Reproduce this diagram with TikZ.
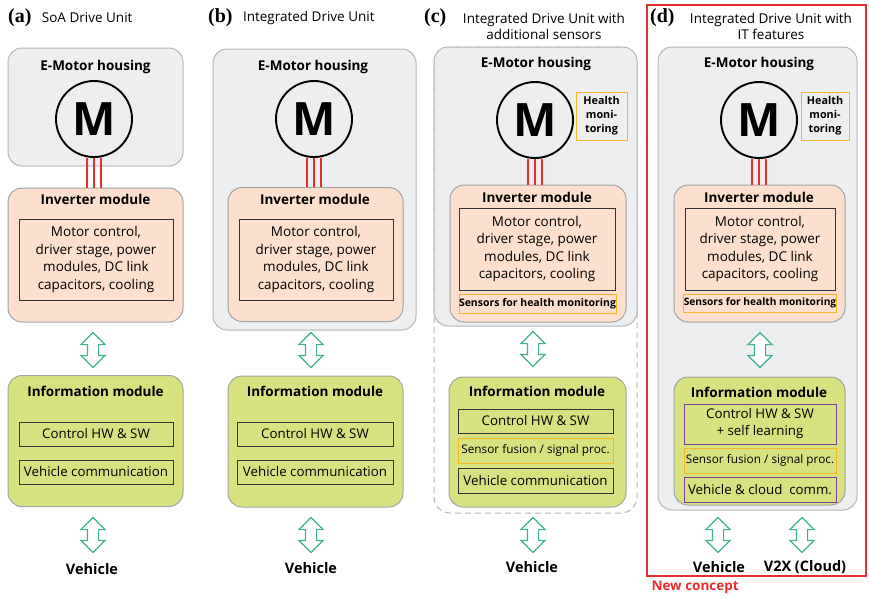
\documentclass[tikz,border=0pt]{standalone}
\usepackage{fontspec}
\setmainfont{Open Sans}
\newfontfamily\tagfont{Liberation Serif}
\usetikzlibrary{shapes.geometric, shapes.arrows, arrows, positioning, calc}

\definecolor{hsfill}{RGB}{237,238,239}
\definecolor{hsline}{RGB}{178,182,185}
\definecolor{invfill}{RGB}{252,223,204}
\definecolor{infofill}{RGB}{216,225,127}
\definecolor{modline}{RGB}{160,164,164}
\definecolor{sensc}{RGB}{244,184,38}
\definecolor{itc}{RGB}{120,62,152}
\definecolor{linkc}{RGB}{62,178,148}
\definecolor{newc}{RGB}{232,45,45}

\tikzset{
  housing/.style={draw=hsline, fill=hsfill, line width=1pt, rounded corners=14pt},
  invmod/.style={draw=modline, fill=invfill, line width=1pt, rounded corners=14pt},
  infomod/.style={draw=modline, fill=infofill, line width=1pt, rounded corners=14pt},
  hdr/.style={font=\bfseries\fontsize{13.5}{15}\selectfont},
  inbox/.style={draw=black!80, line width=1pt, align=center, inner sep=0pt, font=\fontsize{13.5}{17.5}\selectfont},
  boxtxt/.style={font=\fontsize{13.3}{17}\selectfont},
  sensbox/.style={inbox, draw=sensc},
  itbox/.style={inbox, draw=itc},
  hmbox/.style={draw=sensc, line width=1pt, fill=hsfill, align=center, inner sep=0pt, font=\bfseries\fontsize{10.8}{14}\selectfont},
  motor/.style={circle, draw=black, line width=1.9pt, fill=hsfill, minimum size=76pt, inner sep=0pt, font=\bfseries\fontsize{46}{46}\selectfont},
  phase/.style={draw=newc, line width=1.2pt},
  link/.style={double arrow, rotate=90, draw=linkc, fill=white, line width=1.2pt, minimum height=35pt, inner xsep=0pt, inner ysep=5pt, double arrow head extend=6.5pt},
  tag/.style={font=\tagfont\bfseries\fontsize{20}{20}\selectfont, inner sep=0pt},
  ttl/.style={font=\fontsize{13.5}{16}\selectfont, align=center, inner sep=0pt},
  dest/.style={font=\bfseries\fontsize{14.5}{16}\selectfont}
}

\begin{document}
\begin{tikzpicture}[x=1pt, y=-1pt]
\useasboundingbox (0,0) rectangle (869,597);

% (a) state of the art
\node[tag, anchor=west] (tagA) at (8,18) {(a)};
\node[ttl, right=10pt of tagA] {SoA Drive Unit};
\node[housing, minimum width=175pt, minimum height=118pt] (hsA) at (95.5,107) {};
\node[hdr] at (95.5,67) {E-Motor housing};
\node[motor] (motA) at (94,119) {M};
\node[invmod, minimum width=175pt, minimum height=134pt] (invA) at (95.5,255) {};
\node[hdr] at (95.5,199) {Inverter module};
\node[inbox, minimum width=154pt, minimum height=81pt] (ctlA) at (96,259.5) {Motor control,\\driver stage, power\\modules, DC link\\capacitors, cooling};
\foreach \dx in {-7,0,7}
  \draw[phase] ([xshift=\dx pt]motA.south) -- ([xshift=\dx pt]motA.south |- invA.north);
\node[link] (lkA) at (93,350) {};
\node[infomod, minimum width=175pt, minimum height=131pt] (infA) at (95.5,441) {};
\node[hdr] at (95.5,391) {Information module};
\node[inbox, boxtxt, minimum width=154pt, minimum height=24pt] (hwA) at (96,434) {Control HW \& SW};
\node[inbox, boxtxt, minimum width=154pt, minimum height=24pt] (comA) at (96,472) {Vehicle communication};
\node[link] (lkA2) at (93,535) {};
\node[dest] (vehA) at (92,569) {Vehicle};

% (b) integrated unit
\node[tag, anchor=west] (tagB) at (208,18) {(b)};
\node[ttl, right=10pt of tagB] {Integrated Drive Unit};
\node[housing, minimum width=203pt, minimum height=281pt] (hsB) at (314.5,189.5) {};
\node[hdr] at (313,67) {E-Motor housing};
\node[motor] (motB) at (314,119) {M};
\node[invmod, minimum width=175pt, minimum height=134pt] (invB) at (315.5,254.5) {};
\node[hdr] at (315,199) {Inverter module};
\node[inbox, minimum width=154pt, minimum height=81pt] (ctlB) at (316,259.5) {Motor control,\\driver stage, power\\modules, DC link\\capacitors, cooling};
\foreach \dx in {-7,0,7}
  \draw[phase] ([xshift=\dx pt]motB.south) -- ([xshift=\dx pt]motB.south |- invB.north);
\node[link] (lkB) at (311,350) {};
\node[infomod, minimum width=175pt, minimum height=131pt] (infB) at (315.5,441.5) {};
\node[hdr] at (315,391) {Information module};
\node[inbox, boxtxt, minimum width=156pt, minimum height=24pt] (hwB) at (315,434) {Control HW \& SW};
\node[inbox, boxtxt, minimum width=156pt, minimum height=24pt] (comB) at (315,472) {Vehicle communication};
\node[link] (lkB2) at (311,535) {};
\node[dest] (vehB) at (311,568) {Vehicle};

% (c) with sensors, dashed outline around the whole unit
\node[tag, anchor=west] (tagC) at (424,18) {(c)};
\node[ttl] at (544,26) {Integrated Drive Unit with\\additional sensors};
\node[draw=hsline, line width=1pt, dash pattern=on 6pt off 4pt, rounded corners=16pt, minimum width=203pt, minimum height=466pt] (dashC) at (535.5,280) {};
\node[housing, minimum width=203pt, minimum height=279pt] (hsC) at (535.5,186.5) {};
\node[hdr] at (536,64) {E-Motor housing};
\node[motor] (motC) at (535,120) {M};
\node[hmbox, minimum width=51pt, minimum height=48pt] (hmC) at (601.5,116) {Health\\moni-\\toring};
\node[invmod, minimum width=176pt, minimum height=137pt] (invC) at (538,253.5) {};
\node[hdr] at (537,197) {Inverter module};
\node[inbox, minimum width=156pt, minimum height=82pt] (ctlC) at (537,249) {Motor control,\\driver stage, power\\modules, DC link\\capacitors, cooling};
\node[sensbox, minimum width=155pt, minimum height=19pt, font=\bfseries\fontsize{10.5}{12}\selectfont] (snC) at (537.5,303.5) {Sensors for health monitoring};
\foreach \dx in {-7,0,7}
  \draw[phase] ([xshift=\dx pt]motC.south) -- ([xshift=\dx pt]motC.south |- invC.north);
\node[link] (lkC) at (533,349) {};
\node[infomod, minimum width=177pt, minimum height=130pt] (infC) at (537.5,442) {};
\node[hdr] at (537,391) {Information module};
\node[inbox, boxtxt, minimum width=155pt, minimum height=24pt] (hwC) at (535.5,421) {Control HW \& SW};
\node[sensbox, minimum width=155pt, minimum height=25pt, font=\fontsize{11.8}{13}\selectfont] (fuC) at (535.5,450.5) {Sensor fusion / signal proc.};
\node[inbox, boxtxt, minimum width=155pt, minimum height=25pt] (comC) at (535.5,480.5) {Vehicle communication};
\node[link] (lkC2) at (533,535) {};
\node[dest] (vehC) at (532,567) {Vehicle};

% (d) new concept with IT features
\node[draw=newc, line width=1.4pt, minimum width=219pt, minimum height=571pt, inner sep=0pt] (frameD) at (756.5,290.5) {};
\node[tag, anchor=west] (tagD) at (650,18) {(d)};
\node[ttl] at (771,26) {Integrated Drive Unit with\\IT features};
\node[housing, minimum width=199pt, minimum height=463pt] (hsD) at (757.5,278.5) {};
\node[hdr] at (759,64) {E-Motor housing};
\node[motor] (motD) at (759,120) {M};
\node[hmbox, minimum width=48pt, minimum height=48pt] (hmD) at (825,116) {Health\\moni-\\toring};
\node[invmod, minimum width=171pt, minimum height=137pt] (invD) at (759.5,253.5) {};
\node[hdr] at (759,197) {Inverter module};
\node[inbox, minimum width=150pt, minimum height=82pt] (ctlD) at (760,249) {Motor control,\\driver stage, power\\modules, DC link\\capacitors, cooling};
\node[sensbox, minimum width=150pt, minimum height=18pt, font=\bfseries\fontsize{10.2}{12}\selectfont] (snD) at (760,303) {Sensors for health monitoring};
\foreach \dx in {-7,0,7}
  \draw[phase] ([xshift=\dx pt]motD.south) -- ([xshift=\dx pt]motD.south |- invD.north);
\node[link] (lkD) at (760,350) {};
\node[infomod, minimum width=171pt, minimum height=128pt] (infD) at (759.5,441) {};
\node[hdr] at (759,392) {Information module};
\node[itbox, boxtxt, minimum width=152pt, minimum height=40pt] (hwD) at (760,424) {Control HW \& SW\\+ self learning};
\node[sensbox, minimum width=152pt, minimum height=25pt, font=\fontsize{11.8}{13}\selectfont] (fuD) at (760,460.5) {Sensor fusion / signal proc.};
\node[itbox, boxtxt, minimum width=152pt, minimum height=25pt] (comD) at (760,489.5) {Vehicle \& cloud \ comm.};
\node[link] (lkD1) at (718,535) {};
\node[link] (lkD2) at (802,535) {};
\node[dest] (vehD) at (719,567) {Vehicle};
\node[dest] (v2xD) at (805,567) {V2X (Cloud)};
\node[dest, text=newc, anchor=west, font=\bfseries\fontsize{13.5}{15}\selectfont] (newD) at (648,587) {New concept};
\end{tikzpicture}
\end{document}
